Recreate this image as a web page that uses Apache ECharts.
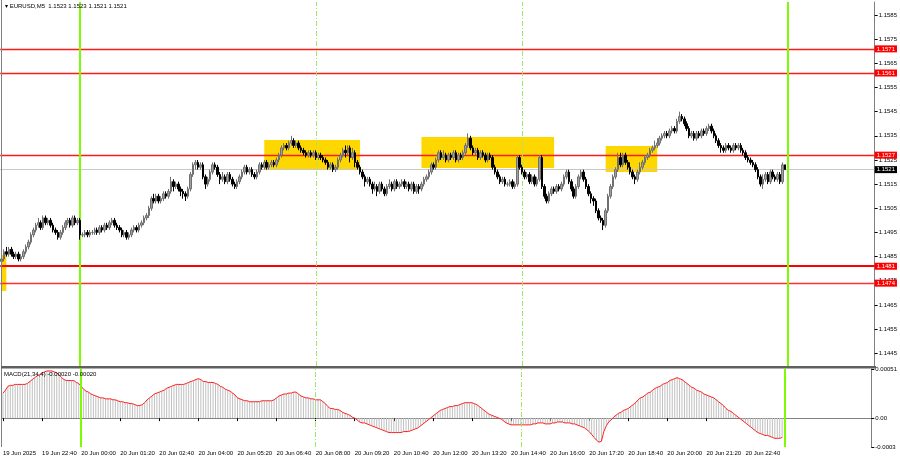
<!DOCTYPE html>
<html><head><meta charset="utf-8">
<script src="https://cdn.jsdelivr.net/npm/echarts@6/dist/echarts.min.js"></script>
<style>html,body{margin:0;padding:0;background:#fff}#c{width:900px;height:460px}</style>
</head><body><div id="c"></div>
<script>
// ---- data (EURUSD M5, 19 Jun 21:20 .. 20 Jun 23:55) ----
const firstOpen = 1.1483;
const closes = [
1.1484,1.1487,1.1486,1.1488,1.1486,1.1485,1.1486,1.1484,1.1485,1.1487,
1.1489,1.1491,1.1494,1.1496,1.1498,1.1499,1.1497,1.1501,1.1499,1.1500,
1.1498,1.1496,1.1495,1.1493,1.1495,1.1497,1.1499,1.1500,1.1498,1.1501,
1.1499,1.1500,1.1494,1.1494,1.1495,1.1494,1.1495,1.1495,1.1496,1.1495,
1.1497,1.1496,1.1498,1.1497,1.1499,1.1500,1.1498,1.1497,1.1496,1.1494,
1.1495,1.1493,1.1494,1.1496,1.1497,1.1496,1.1498,1.1499,1.1501,1.1502,
1.1505,1.1509,1.1508,1.1510,1.1508,1.1509,1.1511,1.1510,1.1512,1.1516,
1.1514,1.1515,1.1513,1.1512,1.1511,1.1510,1.1513,1.1519,1.1523,1.1524,
1.1522,1.1523,1.1518,1.1515,1.1517,1.1520,1.1523,1.1522,1.1519,1.1517,
1.1518,1.1516,1.1519,1.1517,1.1515,1.1514,1.1516,1.1518,1.1520,1.1522,
1.1520,1.1521,1.1519,1.1518,1.1520,1.1523,1.1522,1.1524,1.1522,1.1523,
1.1524,1.1523,1.1525,1.1527,1.1530,1.1531,1.1530,1.1532,1.1533,1.1531,
1.1532,1.1530,1.1529,1.1528,1.1527,1.1528,1.1527,1.1528,1.1526,1.1527,
1.1526,1.1525,1.1524,1.1522,1.1523,1.1521,1.1522,1.1525,1.1527,1.1529,
1.1528,1.1530,1.1526,1.1528,1.1524,1.1522,1.1520,1.1518,1.1516,1.1517,
1.1515,1.1513,1.1514,1.1512,1.1515,1.1513,1.1511,1.1514,1.1515,1.1513,
1.1516,1.1514,1.1515,1.1516,1.1514,1.1515,1.1513,1.1515,1.1512,1.1514,
1.1513,1.1515,1.1517,1.1518,1.1520,1.1523,1.1522,1.1525,1.1528,1.1526,
1.1527,1.1525,1.1527,1.1526,1.1528,1.1525,1.1527,1.1526,1.1528,1.1531,
1.1534,1.1530,1.1528,1.1529,1.1526,1.1528,1.1527,1.1525,1.1527,1.1526,
1.1522,1.1520,1.1518,1.1516,1.1517,1.1515,1.1515,1.1516,1.1514,1.1515,
1.1526,1.1522,1.1520,1.1518,1.1519,1.1516,1.1518,1.1515,1.1517,1.1526,
1.1514,1.1510,1.1508,1.1511,1.1513,1.1512,1.1514,1.1513,1.1515,1.1518,
1.1520,1.1516,1.1513,1.1510,1.1514,1.1518,1.1520,1.1517,1.1514,1.1511,
1.1509,1.1508,1.1504,1.1501,1.1500,1.1498,1.1504,1.1510,1.1514,1.1518,
1.1521,1.1526,1.1523,1.1527,1.1524,1.1522,1.1520,1.1518,1.1517,1.1520,
1.1522,1.1524,1.1526,1.1527,1.1529,1.1530,1.1531,1.1532,1.1534,1.1535,
1.1536,1.1535,1.1537,1.1538,1.1537,1.1541,1.1543,1.1542,1.1540,1.1538,
1.1535,1.1536,1.1534,1.1536,1.1535,1.1537,1.1536,1.1538,1.1539,1.1537,
1.1535,1.1533,1.1531,1.1530,1.1529,1.1531,1.1530,1.1529,1.1531,1.1530,
1.1531,1.1529,1.1528,1.1526,1.1525,1.1524,1.1523,1.1521,1.1518,1.1515,
1.1517,1.1519,1.1516,1.1520,1.1518,1.1517,1.1519,1.1516,1.1523,1.1521
];
const highs = [
1.1486,1.1488,1.1489,1.1489,1.1489,1.1487,1.1487,1.1487,1.1486,1.1488,
1.1490,1.1492,1.1495,1.1497,1.1499,1.1501,1.1500,1.1502,1.1502,1.1501,
1.1501,1.1499,1.1497,1.1496,1.1496,1.1498,1.1500,1.1501,1.1501,1.1502,
1.1502,1.1501,1.1501,1.1495,1.1496,1.1496,1.1496,1.1496,1.1497,1.1497,
1.1498,1.1498,1.1499,1.1499,1.1500,1.1501,1.1501,1.1499,1.1498,1.1497,
1.1496,1.1496,1.1495,1.1497,1.1498,1.1498,1.1499,1.1500,1.1502,1.1503,
1.1506,1.1510,1.1511,1.1511,1.1511,1.1510,1.1512,1.1512,1.1513,1.1518,
1.1517,1.1516,1.1516,1.1514,1.1513,1.1512,1.1514,1.1520,1.1524,1.1525,
1.1525,1.1524,1.1524,1.1519,1.1518,1.1521,1.1524,1.1524,1.1523,1.1520,
1.1520,1.1519,1.1520,1.1520,1.1518,1.1516,1.1517,1.1519,1.1521,1.1523,
1.1523,1.1522,1.1522,1.1520,1.1521,1.1524,1.1524,1.1525,1.1525,1.1524,
1.1525,1.1525,1.1526,1.1528,1.1531,1.1532,1.1532,1.1533,1.1535,1.1534,
1.1533,1.1533,1.1531,1.1530,1.1529,1.1529,1.1529,1.1529,1.1529,1.1528,
1.1528,1.1527,1.1526,1.1525,1.1524,1.1524,1.1523,1.1526,1.1528,1.1530,
1.1531,1.1531,1.1531,1.1530,1.1529,1.1525,1.1523,1.1521,1.1519,1.1518,
1.1518,1.1516,1.1516,1.1515,1.1516,1.1516,1.1514,1.1515,1.1517,1.1516,
1.1517,1.1517,1.1516,1.1517,1.1517,1.1516,1.1516,1.1516,1.1516,1.1515,
1.1515,1.1516,1.1518,1.1519,1.1521,1.1524,1.1524,1.1526,1.1529,1.1529,
1.1529,1.1528,1.1528,1.1528,1.1529,1.1529,1.1528,1.1528,1.1529,1.1532,
1.1536,1.1535,1.1531,1.1530,1.1530,1.1529,1.1529,1.1528,1.1528,1.1528,
1.1527,1.1523,1.1521,1.1519,1.1518,1.1518,1.1516,1.1517,1.1517,1.1516,
1.1527,1.1527,1.1523,1.1521,1.1520,1.1520,1.1519,1.1519,1.1518,1.1527,
1.1527,1.1515,1.1511,1.1512,1.1514,1.1514,1.1515,1.1515,1.1516,1.1519,
1.1521,1.1521,1.1517,1.1514,1.1515,1.1519,1.1521,1.1521,1.1518,1.1515,
1.1512,1.1510,1.1509,1.1505,1.1502,1.1501,1.1505,1.1511,1.1515,1.1519,
1.1522,1.1528,1.1528,1.1528,1.1528,1.1525,1.1524,1.1521,1.1519,1.1521,
1.1524,1.1525,1.1527,1.1528,1.1530,1.1531,1.1533,1.1534,1.1535,1.1536,
1.1537,1.1537,1.1538,1.1539,1.1539,1.1542,1.1545,1.1544,1.1543,1.1541,
1.1539,1.1537,1.1537,1.1537,1.1537,1.1538,1.1538,1.1539,1.1540,1.1540,
1.1538,1.1536,1.1534,1.1532,1.1531,1.1532,1.1532,1.1531,1.1532,1.1532,
1.1532,1.1532,1.1530,1.1529,1.1527,1.1526,1.1525,1.1524,1.1522,1.1519,
1.1519,1.1520,1.1520,1.1521,1.1521,1.1519,1.1520,1.1520,1.1524,1.1523
];
const lows = [
1.1481,1.1483,1.1485,1.1485,1.1485,1.1484,1.1484,1.1483,1.1483,1.1484,
1.1486,1.1488,1.1490,1.1493,1.1495,1.1497,1.1496,1.1496,1.1498,1.1498,
1.1497,1.1495,1.1494,1.1492,1.1492,1.1494,1.1496,1.1498,1.1497,1.1497,
1.1498,1.1498,1.1492,1.1493,1.1493,1.1493,1.1493,1.1494,1.1494,1.1494,
1.1494,1.1495,1.1495,1.1496,1.1496,1.1498,1.1497,1.1496,1.1495,1.1493,
1.1493,1.1492,1.1492,1.1493,1.1495,1.1495,1.1495,1.1497,1.1498,1.1500,
1.1501,1.1504,1.1507,1.1507,1.1507,1.1507,1.1508,1.1509,1.1509,1.1511,
1.1512,1.1513,1.1512,1.1510,1.1509,1.1508,1.1509,1.1512,1.1518,1.1521,
1.1521,1.1521,1.1517,1.1513,1.1514,1.1516,1.1519,1.1521,1.1518,1.1515,
1.1516,1.1515,1.1515,1.1516,1.1514,1.1513,1.1513,1.1515,1.1517,1.1519,
1.1519,1.1519,1.1518,1.1517,1.1517,1.1519,1.1521,1.1521,1.1521,1.1521,
1.1522,1.1522,1.1522,1.1524,1.1526,1.1529,1.1529,1.1529,1.1531,1.1530,
1.1530,1.1529,1.1528,1.1527,1.1526,1.1526,1.1526,1.1526,1.1525,1.1525,
1.1525,1.1524,1.1523,1.1521,1.1521,1.1520,1.1520,1.1521,1.1524,1.1526,
1.1526,1.1527,1.1524,1.1525,1.1522,1.1521,1.1519,1.1517,1.1514,1.1515,
1.1514,1.1511,1.1512,1.1510,1.1511,1.1512,1.1510,1.1510,1.1513,1.1512,
1.1512,1.1513,1.1513,1.1514,1.1513,1.1513,1.1512,1.1512,1.1511,1.1511,
1.1511,1.1512,1.1514,1.1516,1.1517,1.1519,1.1521,1.1521,1.1524,1.1525,
1.1525,1.1524,1.1524,1.1525,1.1525,1.1524,1.1524,1.1525,1.1525,1.1527,
1.1530,1.1529,1.1527,1.1527,1.1525,1.1525,1.1526,1.1524,1.1524,1.1525,
1.1521,1.1519,1.1517,1.1515,1.1515,1.1514,1.1514,1.1514,1.1513,1.1513,
1.1514,1.1521,1.1519,1.1517,1.1517,1.1515,1.1515,1.1514,1.1514,1.1516,
1.1513,1.1509,1.1507,1.1507,1.1510,1.1511,1.1511,1.1512,1.1512,1.1514,
1.1517,1.1515,1.1512,1.1509,1.1509,1.1513,1.1517,1.1516,1.1513,1.1510,
1.1507,1.1506,1.1503,1.1500,1.1499,1.1496,1.1497,1.1503,1.1509,1.1513,
1.1517,1.1520,1.1522,1.1522,1.1523,1.1521,1.1519,1.1517,1.1515,1.1516,
1.1519,1.1521,1.1523,1.1525,1.1526,1.1528,1.1529,1.1530,1.1531,1.1533,
1.1534,1.1534,1.1534,1.1536,1.1536,1.1536,1.1540,1.1541,1.1539,1.1537,
1.1534,1.1534,1.1533,1.1533,1.1534,1.1534,1.1535,1.1535,1.1537,1.1536,
1.1534,1.1532,1.1530,1.1528,1.1528,1.1528,1.1529,1.1528,1.1528,1.1529,
1.1529,1.1528,1.1527,1.1525,1.1524,1.1523,1.1522,1.1520,1.1517,1.1514,
1.1513,1.1516,1.1515,1.1515,1.1517,1.1516,1.1516,1.1515,1.1515,1.1521
];
// MACD main values, in units of 0.00001
const macdPts = [
26,29,33,34,34,35,35,35,35,35,
36,38,40,42,44,45,47,48,49,49,
49,48,47,45,42,40,39,39,39,39,
37,36,33,30,28,27,25,24,23,22,
21,21,20,20,20,19,19,18,17,17,
16,16,15,15,14,13,13,14,16,19,
21,23,25,26,27,28,29,31,32,33,
34,35,35,35,35,36,37,38,39,40,
41,40,38,38,37,37,37,36,35,33,
32,30,29,28,26,24,21,20,19,18,
18,17,17,17,17,17,18,18,18,18,
18,19,21,23,24,25,25,26,26,27,
27,25,23,22,21,21,20,20,19,19,
19,17,15,12,10,10,9,9,8,6,
5,4,3,1,0,-2,-4,-5,-5,-6,
-7,-8,-9,-10,-11,-12,-13,-14,-15,-15,
-15,-15,-15,-15,-14,-14,-14,-13,-12,-11,
-10,-8,-6,-4,-2,0,2,4,6,8,
9,10,11,12,12,13,13,14,15,16,
16,16,16,15,14,12,10,8,6,4,
3,2,1,0,-1,-3,-5,-6,-7,-7,
-7,-7,-7,-7,-7,-7,-7,-6,-6,-5,
-5,-5,-6,-6,-6,-5,-5,-4,-4,-4,
-5,-5,-5,-6,-6,-7,-8,-9,-10,-12,
-14,-17,-20,-23,-25,-24,-14,-8,-4,-2,
1,3,5,6,8,9,10,12,14,16,
19,21,22,24,26,27,29,31,32,33,
35,36,37,39,40,41,42,41,40,38,
36,34,32,31,29,28,27,25,24,23,
22,21,19,17,15,13,10,8,7,5,
3,1,-1,-3,-5,-7,-9,-11,-13,-15,
-16,-17,-18,-18,-19,-20,-21,-21,-21,-20
];
const priceTicks = [1.1445,1.1455,1.1465,1.1475,1.1485,1.1495,1.1505,1.1515,1.1525,1.1535,1.1545,1.1555,1.1565,1.1575,1.1585];
const macdTicks = [0.00051, 0, -0.0003];
const macdTickLabels = ['0.00051', '0.00', '-0.0003'];
const timeLabels = ['19 Jun 2025','19 Jun 22:40','20 Jun 00:00','20 Jun 01:20','20 Jun 02:40','20 Jun 04:00','20 Jun 05:20','20 Jun 06:40','20 Jun 08:00','20 Jun 09:20','20 Jun 10:40','20 Jun 12:00','20 Jun 13:20','20 Jun 14:40','20 Jun 16:00','20 Jun 17:20','20 Jun 18:40','20 Jun 20:00','20 Jun 21:20','20 Jun 22:40'];
const levelPrices = [1.1571, 1.1561, 1.1527, 1.1481, 1.1474];
const dayStartBars = [32, 320];      // 20 Jun 00:00, 21 Jun 00:00
const sessionBars = [128, 212];      // 20 Jun 08:00, 20 Jun 15:00
// yellow zones: [fromBar, toBar, top price, bottom price]
const zones = [[0, 2, 1.14857, 1.14708], [107, 146, 1.15333, 1.15208], [171, 225, 1.15345, 1.15217], [246, 267, 1.15308, 1.15200]];

// ---- build ----
const nSlots = 356;
const t0 = Date.UTC(2025, 5, 19, 21, 20);
const categories = [];
for (let i = 0; i < nSlots; i++) {
  categories.push(new Date(t0 + i * 300000).toISOString().slice(5, 16).replace('T', ' '));
}
const opens = closes.map((c, i) => i === 0 ? firstOpen : closes[i - 1]);
const candles = closes.map((c, i) => [opens[i], c, lows[i], highs[i]]);
const macd = macdPts.map(v => v / 100000);
const last = closes.length - 1;
const FONT = 'Liberation Sans';
const FS = 6;

const lvlLabel = (txt, bg) => ({show: true, position: 'end', distance: 0, formatter: txt, color: '#fff', backgroundColor: bg,
          padding: [1, 2, 0, 2], fontSize: FS, fontFamily: FONT});
const levelStyles = [[1.4, '#ff1a1a'], [1.4, '#ff1a1a'], [1.4, '#ff1a1a'], [2, '#ff0000'], [1.4, '#ff3030']];
const hLines = levelPrices.map((p, i) => ({yAxis: p, lineStyle: {color: levelStyles[i][1], width: levelStyles[i][0], type: 'solid', opacity: 1},
                                           label: lvlLabel(p.toFixed(4), '#ff0000')}));
hLines.unshift({yAxis: closes[last], lineStyle: {color: '#c8c8c8', width: 1, type: 'solid', opacity: 1}, label: lvlLabel(closes[last].toFixed(4), '#000')});

const vLines = [];
dayStartBars.forEach(b => vLines.push({xAxis: categories[b], lineStyle: {color: '#7CFC00', width: 2, type: 'solid', opacity: 1}, label: {show: false}}));
sessionBars.forEach(b => vLines.push({xAxis: categories[b], lineStyle: {color: '#9BE86A', width: 1, type: [5, 2, 1, 2], opacity: 1}, label: {show: false}}));

const chart = echarts.init(document.getElementById('c'), null, {renderer: 'canvas'});
const gridL = 0.2, gridR = 25;
chart.setOption({
  animation: false,
  backgroundColor: '#fff',
  textStyle: {fontFamily: FONT},
  grid: [
    {left: gridL, right: gridR, top: 2, height: 364},
    {left: gridL, right: gridR, top: 369, height: 78}
  ],
  xAxis: [
    {type: 'category', gridIndex: 0, data: categories, boundaryGap: true,
     axisLine: {show: false}, axisTick: {show: false}, axisLabel: {show: false}, splitLine: {show: false}},
    {type: 'category', gridIndex: 1, data: categories, boundaryGap: true,
     axisLine: {show: true, lineStyle: {color: '#808080', width: 1}},
     axisTick: {show: true, alignWithLabel: true, length: 3, lineStyle: {color: '#000'},
                interval: (i) => i % 16 === 0 && i / 16 < timeLabels.length},
     axisLabel: {show: true, align: 'left', margin: 3, fontSize: FS, color: '#000', fontFamily: FONT,
                 interval: (i) => i % 16 === 0 && i / 16 < timeLabels.length,
                 formatter: (v, i) => timeLabels[i / 16] || ''},
     splitLine: {show: false}}
  ],
  yAxis: [
    {type: 'value', gridIndex: 0, position: 'right', min: 1.14397, max: 1.15904, scale: true,
     axisLine: {show: true, lineStyle: {color: '#808080', width: 1}},
     axisTick: {show: true, length: 3, lineStyle: {color: '#000'}, customValues: priceTicks},
     axisLabel: {show: true, margin: 4, fontSize: FS, color: '#000', fontFamily: FONT, customValues: priceTicks,
                 formatter: v => v.toFixed(4)},
     splitLine: {show: false}},
    {type: 'value', gridIndex: 1, position: 'right', min: -0.0003, max: 0.00051,
     axisLine: {show: true, lineStyle: {color: '#808080', width: 1}},
     axisTick: {show: true, length: 3, lineStyle: {color: '#000'}, customValues: macdTicks},
     axisLabel: {show: true, margin: 4, fontSize: FS, color: '#000', fontFamily: FONT, customValues: macdTicks,
                 formatter: v => { const k = macdTicks.findIndex(t => Math.abs(t - v) < 1e-9); return k >= 0 ? macdTickLabels[k] : ''; }},
     splitLine: {show: false}}
  ],
  series: [
    // helper series carrying zones and level lines of the price panel
    {type: 'line', xAxisIndex: 0, yAxisIndex: 0, data: [], z: 2, symbol: 'none', color: '#ff0000',
     markArea: {silent: true, z: 2, itemStyle: {color: '#FFD700', opacity: 1},
       data: zones.map(z => [{xAxis: categories[z[0]], yAxis: z[2]}, {xAxis: categories[z[1]], yAxis: z[3]}])},
     markLine: {silent: true, z: 3, precision: 6, symbol: ['none', 'none'], animation: false,
                lineStyle: {color: '#ff0000', opacity: 1}, data: hLines.concat(vLines)}
    },
    {type: 'candlestick', xAxisIndex: 0, yAxisIndex: 0, data: candles, barWidth: 2, z: 5,
     itemStyle: {color: '#a0a0a0', color0: '#000', borderColor: '#707070', borderColor0: '#000', borderWidth: 1}
    },
    {type: 'bar', xAxisIndex: 1, yAxisIndex: 1, data: macd, barWidth: 1, z: 2,
     itemStyle: {color: '#c0c0c0'},
     markLine: {silent: true, z: 5, precision: 6, symbol: ['none', 'none'], animation: false, data: vLines}
    },
    {type: 'line', xAxisIndex: 1, yAxisIndex: 1, data: macd, z: 4, symbol: 'none',
     lineStyle: {color: '#ff2020', width: 1}}
  ],
  graphic: [
    {type: 'line', shape: {x1: 1.5, y1: 0, x2: 1.5, y2: 447}, style: {stroke: '#808080', lineWidth: 1}, z: 10},
    {type: 'rect', shape: {x: 1, y: 366, width: 875, height: 2.5}, style: {fill: '#606060'}, z: 10},
    {type: 'text', left: 5, top: 3, z: 20,
     style: {text: '\u25BE EURUSD,M5  ' + [opens[last], highs[last], lows[last], closes[last]].map(v => v.toFixed(4)).join(' '),
             fill: '#000', fontSize: FS, fontFamily: FONT}},
    {type: 'text', left: 4, top: 371, z: 20,
     style: {text: 'MACD(21,34,4) ' + macd[last].toFixed(5) + ' ' + macd[last].toFixed(5),
             fill: '#000', fontSize: FS, fontFamily: FONT}}
  ]
});
</script></body></html>
